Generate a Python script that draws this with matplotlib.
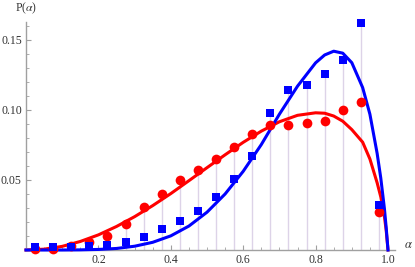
import numpy as np
import matplotlib
matplotlib.use('Agg')
import matplotlib.pyplot as plt
from matplotlib.ticker import MultipleLocator, FixedLocator

plt.rcParams['font.family'] = ['Liberation Serif', 'DejaVu Serif']
plt.rcParams['mathtext.fontset'] = 'stix'

# histogram bins (centres)
alpha = [0.025, 0.075, 0.125, 0.175, 0.225, 0.275, 0.325, 0.375, 0.425, 0.475,
         0.525, 0.575, 0.625, 0.675, 0.725, 0.775, 0.825, 0.875, 0.925, 0.975]
red_pts = [0.001, 0.001, 0.003, 0.0057, 0.010, 0.0186, 0.031, 0.040, 0.050, 0.057,
           0.065, 0.0735, 0.083, 0.089, 0.089, 0.091, 0.092, 0.100, 0.106, 0.027]
blue_pts = [0.002, 0.002, 0.002, 0.003, 0.0036, 0.006, 0.0095, 0.015, 0.021, 0.028,
            0.038, 0.0507, 0.067, 0.098, 0.114, 0.118, 0.126, 0.136, 0.162, 0.032]

# fitted curves
curve_a = [0.0, 0.05, 0.1, 0.15, 0.2, 0.25, 0.3, 0.35, 0.4, 0.45, 0.5, 0.55, 0.6,
           0.65, 0.7, 0.75, 0.8, 0.825, 0.85, 0.875, 0.9, 0.93, 0.95, 0.97, 0.98,
           0.99, 0.995, 1.0]
red_curve = [0.0, 0.0006, 0.0026, 0.0061, 0.0108, 0.0168, 0.0238, 0.0317, 0.0403,
             0.0495, 0.0588, 0.068, 0.0769, 0.0849, 0.0916, 0.0962, 0.098, 0.0977,
             0.0957, 0.092, 0.086, 0.077, 0.065, 0.048, 0.038, 0.024, 0.014, 0.0]
blue_curve = [0.0, 0.0, 0.0, 0.0001, 0.0004, 0.0011, 0.0027, 0.0055, 0.0101, 0.0171,
              0.027, 0.040, 0.0562, 0.0753, 0.097, 0.117, 0.1337, 0.1393, 0.142,
              0.1406, 0.1338, 0.116, 0.097, 0.069, 0.0515, 0.0298, 0.016, 0.0]

fig = plt.figure(figsize=(4.15, 2.67), dpi=100)
ax = fig.add_axes([26/415, 17/267, 369/415, 228/267])

# filling to axis
stem_top = np.maximum(red_pts, blue_pts)
ax.vlines(alpha, 0, stem_top, color='#ddd3e8', lw=1.0, zorder=1, clip_on=False)

ax.plot(curve_a, red_curve, color='red', lw=2.2, zorder=2, clip_on=False)
ax.plot(curve_a, blue_curve, color='blue', lw=2.2, zorder=3, clip_on=False)
ax.plot(alpha, red_pts, 'o', color='red', ms=7, mew=0, zorder=4, clip_on=False)
ax.plot(alpha, blue_pts, 's', color='blue', ms=6.3, mew=0, zorder=5, clip_on=False)

ax.set_xlim(0, 369/362)
ax.set_ylim(0, 228/1400)

for s in ['top', 'right']:
    ax.spines[s].set_visible(False)
for s in ['left', 'bottom']:
    ax.spines[s].set_color('#a0a0a0')
    ax.spines[s].set_linewidth(1.0)

ax.xaxis.set_major_locator(FixedLocator([0.2, 0.4, 0.6, 0.8, 1.0]))
ax.xaxis.set_minor_locator(MultipleLocator(0.05))
ax.yaxis.set_major_locator(FixedLocator([0.05, 0.10, 0.15]))
ax.yaxis.set_minor_locator(MultipleLocator(0.01))
ax.set_xticklabels(['0.2', '0.4', '0.6', '0.8', '1.0'])
ax.set_yticklabels(['0.05', '0.10', '0.15'])
ax.tick_params(which='both', direction='in', color='#a0a0a0', labelsize=8.5,
               labelcolor='#333333')
ax.tick_params(which='major', length=3.5, width=0.8, pad=3)
ax.tick_params(which='minor', length=2, width=0.6)

fig.text(26/415, 1 - 8/267, r'P($\alpha$)', ha='center', va='center',
         fontsize=8.5, color='#333333')
fig.text(408/415, 1 - 245/267, r'$\alpha$', ha='center', va='center',
         fontsize=9, color='#333333')

fig.savefig('out.png', dpi=100)
